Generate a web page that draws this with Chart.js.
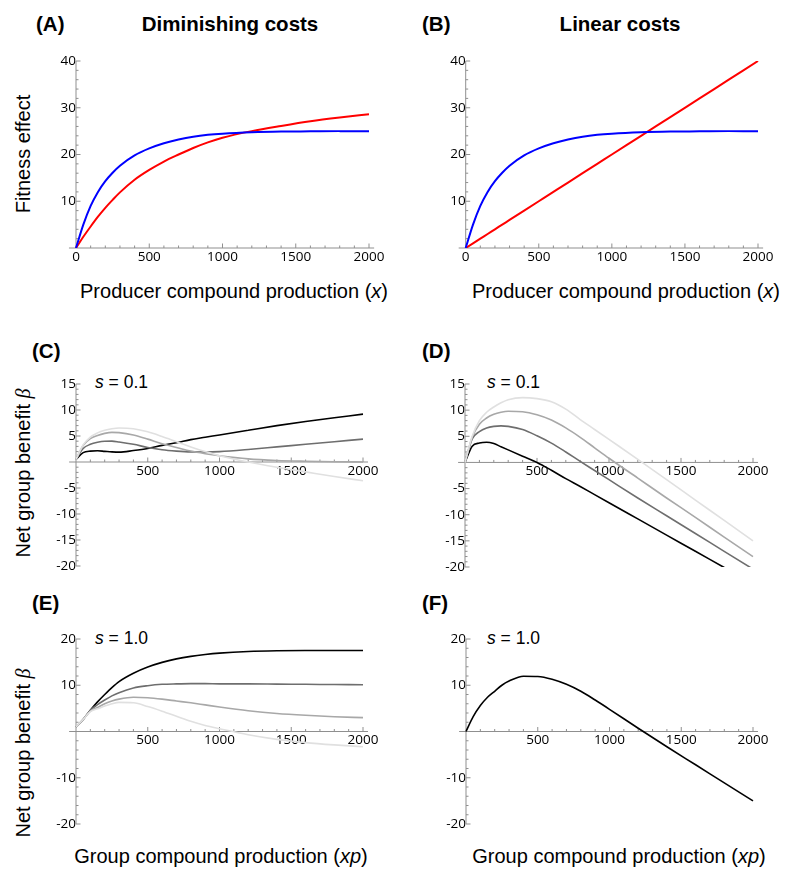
<!DOCTYPE html>
<html>
<head>
<meta charset="utf-8">
<script src="https://cdn.jsdelivr.net/npm/chart.js@4.4.1/dist/chart.umd.min.js"></script>
<style>
body{margin:0;background:#fff;width:800px;height:883px;position:relative;overflow:hidden;font-family:"Liberation Sans",Arial,sans-serif;color:#000}
canvas{position:absolute}
.t{position:absolute;white-space:nowrap;line-height:1}
.lab{font-weight:bold;font-size:20.5px}
.ttl{font-weight:bold;font-size:20.5px;transform:translateX(-50%)}
.ax{font-size:20px;transform:translateX(-50%)}
.rot{font-size:20px;transform:translate(-50%,-50%) rotate(-90deg)}
.s{font-size:17.5px}
.beta{font-family:"Liberation Serif",serif;font-style:italic}
</style>
</head>
<body>

<div class="t lab" style="left:36px;top:14px">(A)</div>
<div class="t ttl" style="left:230px;top:14px">Diminishing costs</div>
<div class="t lab" style="left:422px;top:14px">(B)</div>
<div class="t ttl" style="left:620px;top:14px">Linear costs</div>
<div class="t lab" style="left:32px;top:341px">(C)</div>
<div class="t lab" style="left:422px;top:341px">(D)</div>
<div class="t lab" style="left:32px;top:593px">(E)</div>
<div class="t lab" style="left:422px;top:593px">(F)</div>

<div class="t rot" style="left:23px;top:154px">Fitness effect</div>
<div class="t rot" style="left:23px;top:473px">Net group benefit <span class="beta">β</span></div>
<div class="t rot" style="left:23px;top:753px">Net group benefit <span class="beta">β</span></div>

<div class="t ax" style="left:234px;top:281px">Producer compound production (<i>x</i>)</div>
<div class="t ax" style="left:626px;top:281px">Producer compound production (<i>x</i>)</div>
<div class="t ax" style="left:221px;top:846px">Group compound production (<i>xp</i>)</div>
<div class="t ax" style="left:619px;top:846px">Group compound production (<i>xp</i>)</div>

<div class="t s" style="left:95px;top:374px"><i>s</i> = 0.1</div>
<div class="t s" style="left:487px;top:374px"><i>s</i> = 0.1</div>
<div class="t s" style="left:95px;top:630px"><i>s</i> = 1.0</div>
<div class="t s" style="left:487px;top:630px"><i>s</i> = 1.0</div>

<script>
// sample points along the x axis (compound production)
const xs = [0,50,100,150,200,250,300,400,500,600,700,800,900,1000,1200,1400,1600,1800,2000];

// (A) diminishing costs
const benefitA = [0,5.0,9.0,12.0,14.3,16.1,17.6,19.8,21.3,22.4,23.2,23.8,24.2,24.45,24.75,24.9,24.95,25,25];
const costA    = [0,2.4,4.6,6.7,8.6,10.3,11.9,14.6,16.7,18.5,20.0,21.4,22.6,23.6,25.0,26.1,27.1,27.9,28.6];
// (B) linear costs
const benefitB = [0,5.0,9.0,12.0,14.3,16.1,17.6,19.8,21.3,22.4,23.2,23.8,24.2,24.45,24.75,24.9,24.95,25,25];
const costB    = [0,1,2,3,4,5,6,8,10,12,14,16,18,20,24,28,32,36,40];

// (C) diminishing, s = 0.1 (black, dark, mid, light)
const dimS01Black = [0.5,1.8,2.1,2.15,2.05,1.95,1.9,2.2,2.6,3.2,3.7,4.3,4.75,5.2,6.1,7.0,7.8,8.5,9.2];
const dimS01Dark  = [0.5,2.6,3.4,3.8,4.0,4.02,3.85,3.4,2.8,2.35,2.1,1.95,1.93,2.0,2.4,2.9,3.4,3.9,4.4];
const dimS01Mid   = [0.5,3.2,4.5,5.1,5.5,5.7,5.65,5.2,4.4,3.5,2.8,2.1,1.6,1.2,0.6,0.3,0.15,0.05,0];
const dimS01Light = [0.5,3.3,4.8,5.6,6.1,6.4,6.55,6.4,5.8,4.9,3.9,2.9,2.0,1.2,0.0,-1.0,-1.9,-2.8,-3.6];

// (D) linear, s = 0.1
const linS01Black = [0,3.1,3.7,3.85,3.6,3.0,2.4,1.2,0,-1.5,-3.1,-4.6,-6.15,-7.7,-10.8,-13.9,-17.0,-20.1,-23.2];
const linS01Dark  = [0,4.5,5.9,6.6,6.9,7.0,6.9,6.3,5.1,3.7,2.0,0.2,-1.55,-3.3,-6.8,-10.2,-13.6,-17.0,-20.4];
const linS01Mid   = [0,4.8,7.3,8.5,9.2,9.6,9.8,9.7,9.1,8.1,6.6,4.8,2.8,0.8,-3.0,-6.8,-10.5,-14.3,-18.0];
const linS01Light = [0,5.0,8.0,9.6,10.6,11.4,12.0,12.4,12.2,11.6,10.2,8.2,6.3,4.4,0.6,-3.3,-7.2,-11.1,-15.0];

// (E) diminishing, s = 1.0
const dimS1Black = [1.0,2.6,4.6,6.4,8.0,9.5,10.8,12.6,13.95,14.95,15.7,16.25,16.65,16.95,17.3,17.45,17.5,17.5,17.5];
const dimS1Dark  = [1.0,2.6,4.6,5.8,6.8,7.7,8.4,9.4,9.9,10.2,10.3,10.35,10.35,10.3,10.3,10.25,10.2,10.15,10.1];
const dimS1Mid   = [1.0,2.6,4.4,5.2,6.0,6.6,7.0,7.4,7.3,7.0,6.6,6.2,5.75,5.3,4.5,3.9,3.5,3.2,3.0];
const dimS1Light = [1.0,2.6,4.3,4.9,5.5,6.0,6.3,6.2,5.4,4.4,3.3,2.2,1.3,0.6,-0.7,-1.7,-2.4,-2.9,-3.3];

// (F) linear, s = 1.0
const linS1Black = [0,3.2,5.6,7.4,8.7,10.0,10.9,11.95,11.9,11.3,10.2,8.7,6.8,4.8,0.7,-3.3,-7.2,-11.1,-15.0];

const xTicks = [0,500,1000,1500,2000];
const yTicksFit = [10,20,30,40];
const yTicksLow = [-20,-15,-10,-5,5,10,15];
const yTicksHigh = [-20,-10,10,20];

const GRAYS = ['#000000','#6e6e6e','#a8a8a8','#e0e0e0'];
const XMIN = -48, XMAX = 2035;

const panels = [
  {x0:76, x2000:369, top:61, bottom:248, ymin:0, ymax:40, yTicks:yTicksFit, yMinor:2, zeroLabel:true,
   series:[{v:benefitA,c:'#0000ff',w:2},{v:costA,c:'#ff0000',w:2}]},
  {x0:465.7, x2000:758, top:61, bottom:248, ymin:0, ymax:40, yTicks:yTicksFit, yMinor:2, zeroLabel:true,
   series:[{v:benefitB,c:'#0000ff',w:2},{v:costB,c:'#ff0000',w:2}]},
  {x0:76, x2000:363, top:384, bottom:566, ymin:-20, ymax:15, yTicks:yTicksLow, yMinor:1,
   series:[dimS01Light,dimS01Mid,dimS01Dark,dimS01Black].map((v,i)=>({v,c:GRAYS[3-i],w:1.6}))},
  {x0:465, x2000:753, top:384, bottom:567, ymin:-20, ymax:15, yTicks:yTicksLow, yMinor:1,
   series:[linS01Light,linS01Mid,linS01Dark,linS01Black].map((v,i)=>({v,c:GRAYS[3-i],w:1.6}))},
  {x0:76, x2000:363, top:639, bottom:824, ymin:-20, ymax:20, yTicks:yTicksHigh, yMinor:2,
   series:[dimS1Light,dimS1Mid,dimS1Dark,dimS1Black].map((v,i)=>({v,c:GRAYS[3-i],w:1.6}))},
  {x0:466, x2000:753, top:639, bottom:824, ymin:-20, ymax:20, yTicks:yTicksHigh, yMinor:2,
   series:[{v:linS1Black,c:'#000000',w:1.6}]}
];

// Mathematica-like axes: lines through the origin with inward major/minor ticks
const mmaAxes = {
  id:'mmaAxes',
  beforeDatasetsDraw(chart){
    const {ctx, chartArea:a, scales:{x,y}} = chart;
    const step = chart.options.plugins.mmaAxes.yMinor;
    const ox = x.getPixelForValue(0), oy = y.getPixelForValue(0);
    ctx.save();
    ctx.strokeStyle = '#8f8f8f';
    ctx.lineWidth = 1;
    ctx.beginPath();
    ctx.moveTo(a.left, oy); ctx.lineTo(a.right, oy);
    ctx.moveTo(ox, a.top); ctx.lineTo(ox, a.bottom);
    for (let v = 100; v <= 2000; v += 100) {
      const px = x.getPixelForValue(v);
      const len = v % 500 === 0 ? 4.5 : 2.5;
      ctx.moveTo(px, oy); ctx.lineTo(px, oy - len);
    }
    for (let v = y.min; v <= y.max + 1e-9; v += step) {
      if (Math.abs(v) < 1e-9) continue;
      const py = y.getPixelForValue(v);
      const len = Math.abs(v % (step * 5)) < 1e-9 ? 4.5 : 2.5;
      ctx.moveTo(ox, py); ctx.lineTo(ox + len, py);
    }
    ctx.stroke();
    ctx.restore();
  }
};

const tickFont = {family:'"Open Sans", sans-serif', size:13.5};

panels.forEach(p => {
  const k = (p.x2000 - p.x0) / 2000;
  const L = p.x0 + XMIN * k, R = p.x0 + XMAX * k;
  const cl = Math.floor(L) - 45, ct = Math.floor(p.top) - 14;
  const w = Math.ceil(R) + 25 - cl, h = Math.ceil(p.bottom) + 26 - ct;
  const cv = document.createElement('canvas');
  cv.width = w; cv.height = h;
  cv.style.left = cl + 'px'; cv.style.top = ct + 'px';
  cv.style.width = w + 'px'; cv.style.height = h + 'px';
  document.body.appendChild(cv);

  new Chart(cv, {
    type:'line',
    data:{datasets:p.series.map(s => ({
      data:xs.map((x,i) => ({x, y:s.v[i]})),
      borderColor:s.c, borderWidth:s.w, pointRadius:0,
      cubicInterpolationMode:'monotone', fill:false
    }))},
    options:{
      responsive:false, animation:false, devicePixelRatio:1,
      layout:{padding:{left:L - cl, right:cl + w - R, top:p.top - ct, bottom:ct + h - p.bottom}},
      plugins:{legend:{display:false}, tooltip:{enabled:false}, mmaAxes:{yMinor:p.yMinor}},
      scales:{
        x:{type:'linear', min:XMIN, max:XMAX, position:{y:0},
           grid:{display:false, drawTicks:false}, border:{display:false},
           afterBuildTicks:sc => { sc.ticks = xTicks.map(v => ({value:v})); },
           ticks:{font:tickFont, color:'#000', padding:1, maxRotation:0, autoSkip:false,
                  callback:v => (v === 0 && !p.zeroLabel) ? '' : String(v)}},
        y:{type:'linear', min:p.ymin, max:p.ymax, position:{x:0},
           grid:{display:false, drawTicks:false}, border:{display:false},
           afterBuildTicks:sc => { sc.ticks = p.yTicks.map(v => ({value:v})); },
           ticks:{font:tickFont, color:'#000', padding:5, autoSkip:false,
                  callback:v => String(v)}}
      }
    },
    plugins:[mmaAxes]
  });
});
</script>
</body>
</html>
